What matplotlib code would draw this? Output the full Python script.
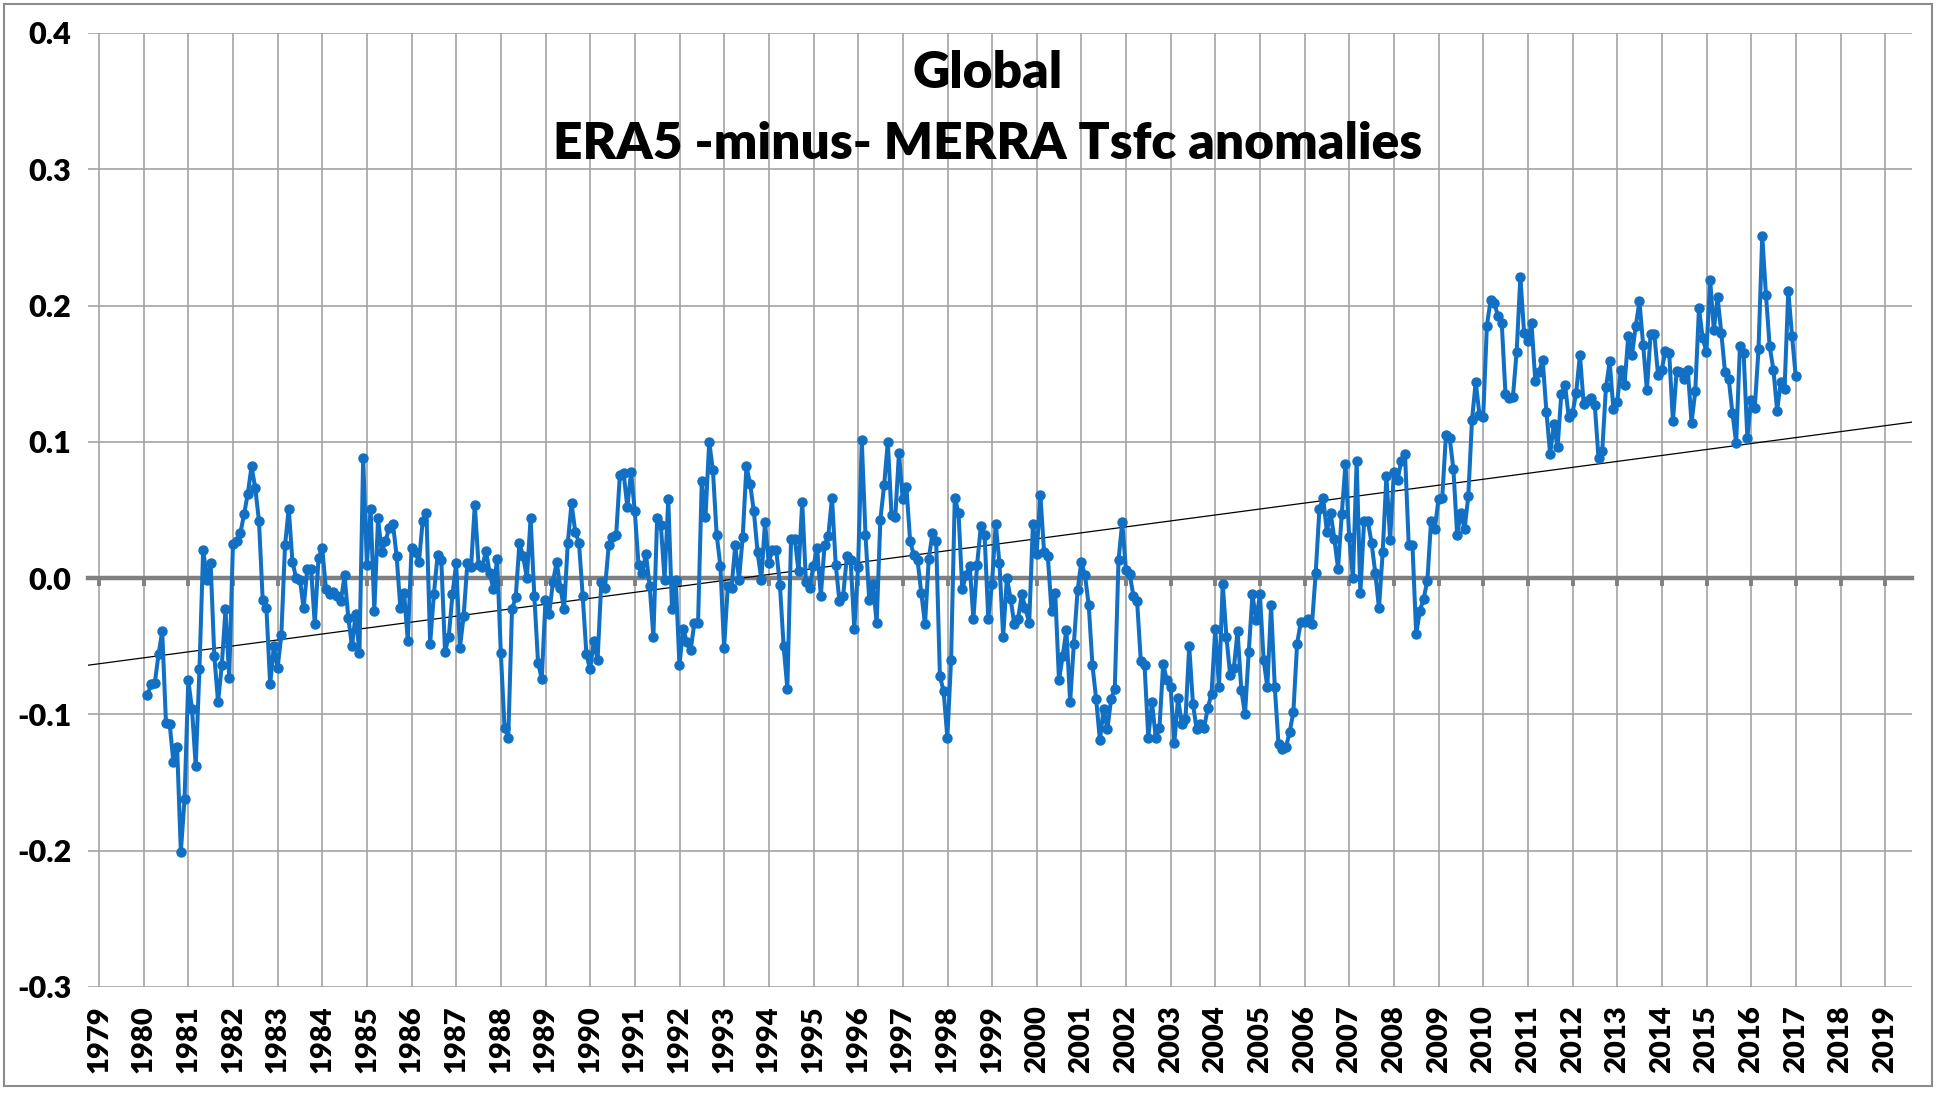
import numpy as np
import matplotlib
matplotlib.use("Agg")
import matplotlib.pyplot as plt
from matplotlib.patches import Rectangle
from matplotlib.ticker import FuncFormatter

# monthly ERA5 minus MERRA Tsfc anomaly differences, Jan 1980 - Dec 2016
y1980 = [-0.086, -0.078, -0.077, -0.056, -0.039, -0.106, -0.107, -0.135, -0.124, -0.201, -0.162, -0.075]
y1981 = [-0.096, -0.138, -0.067, 0.021, -0.001, 0.011, -0.057, -0.091, -0.064, -0.023, -0.073, 0.025]
y1982 = [0.027, 0.033, 0.047, 0.062, 0.082, 0.066, 0.042, -0.016, -0.022, -0.078, -0.050, -0.066]
y1983 = [-0.042, 0.024, 0.051, 0.012, 0.000, -0.001, -0.022, 0.007, 0.007, -0.034, 0.015, 0.022]
y1984 = [-0.008, -0.012, -0.010, -0.013, -0.017, 0.002, -0.029, -0.050, -0.026, -0.055, 0.088, 0.010]
y1985 = [0.051, -0.024, 0.044, 0.019, 0.027, 0.037, 0.040, 0.016, -0.022, -0.011, -0.046, 0.022]
y1986 = [0.019, 0.012, 0.042, 0.048, -0.048, -0.012, 0.017, 0.013, -0.054, -0.043, -0.012, 0.011]
y1987 = [-0.051, -0.028, 0.011, 0.008, 0.054, 0.010, 0.008, 0.020, 0.004, -0.008, 0.014, -0.055]
y1988 = [-0.110, -0.117, -0.023, -0.014, 0.026, 0.016, 0.000, 0.044, -0.013, -0.062, -0.074, -0.016]
y1989 = [-0.026, -0.003, 0.012, -0.007, -0.023, 0.026, 0.055, 0.034, 0.026, -0.013, -0.056, -0.067]
y1990 = [-0.046, -0.060, -0.003, -0.007, 0.024, 0.030, 0.032, 0.076, 0.077, 0.052, 0.078, 0.049]
y1991 = [0.010, 0.004, 0.018, -0.006, -0.043, 0.044, 0.039, -0.001, 0.058, -0.023, -0.001, -0.064]
y1992 = [-0.037, -0.047, -0.053, -0.033, -0.033, 0.071, 0.045, 0.100, 0.079, 0.032, 0.009, -0.051]
y1993 = [-0.006, -0.007, 0.024, -0.001, 0.030, 0.082, 0.069, 0.049, 0.019, -0.001, 0.041, 0.011]
y1994 = [0.021, 0.021, -0.005, -0.050, -0.081, 0.029, 0.029, 0.005, 0.056, -0.003, -0.007, 0.009]
y1995 = [0.022, -0.013, 0.024, 0.031, 0.059, 0.010, -0.017, -0.013, 0.016, 0.013, -0.037, 0.008]
y1996 = [0.101, 0.032, -0.016, -0.004, -0.033, 0.043, 0.068, 0.100, 0.046, 0.045, 0.092, 0.058]
y1997 = [0.067, 0.027, 0.017, 0.013, -0.011, -0.034, 0.014, 0.033, 0.027, -0.072, -0.083, -0.117]
y1998 = [-0.060, 0.059, 0.048, -0.008, 0.002, 0.009, -0.030, 0.010, 0.038, 0.032, -0.030, -0.004]
y1999 = [0.040, 0.011, -0.043, 0.000, -0.015, -0.034, -0.030, -0.012, -0.022, -0.033, 0.040, 0.018]
y2000 = [0.061, 0.019, 0.016, -0.024, -0.011, -0.075, -0.057, -0.038, -0.091, -0.048, -0.009, 0.012]
y2001 = [0.002, -0.020, -0.064, -0.089, -0.119, -0.096, -0.111, -0.089, -0.081, 0.013, 0.041, 0.006]
y2002 = [0.003, -0.013, -0.017, -0.061, -0.064, -0.117, -0.091, -0.117, -0.110, -0.063, -0.075, -0.080]
y2003 = [-0.121, -0.088, -0.107, -0.103, -0.050, -0.092, -0.111, -0.107, -0.110, -0.095, -0.085, -0.037]
y2004 = [-0.080, -0.004, -0.043, -0.071, -0.066, -0.039, -0.082, -0.100, -0.054, -0.012, -0.031, -0.012]
y2005 = [-0.060, -0.080, -0.020, -0.080, -0.122, -0.125, -0.124, -0.113, -0.098, -0.048, -0.032, -0.032]
y2006 = [-0.030, -0.034, 0.004, 0.051, 0.059, 0.034, 0.048, 0.029, 0.007, 0.047, 0.084, 0.030]
y2007 = [0.000, 0.086, -0.011, 0.042, 0.042, 0.026, 0.004, -0.022, 0.019, 0.075, 0.028, 0.078]
y2008 = [0.072, 0.086, 0.091, 0.024, 0.024, -0.041, -0.024, -0.015, -0.002, 0.042, 0.036, 0.058]
y2009 = [0.059, 0.105, 0.103, 0.080, 0.032, 0.048, 0.036, 0.060, 0.116, 0.144, 0.120, 0.118]
y2010 = [0.185, 0.204, 0.202, 0.192, 0.187, 0.135, 0.132, 0.133, 0.166, 0.221, 0.180, 0.174]
y2011 = [0.187, 0.145, 0.151, 0.160, 0.122, 0.091, 0.113, 0.096, 0.135, 0.142, 0.118, 0.121]
y2012 = [0.136, 0.164, 0.128, 0.130, 0.132, 0.127, 0.088, 0.093, 0.140, 0.159, 0.124, 0.129]
y2013 = [0.153, 0.142, 0.178, 0.164, 0.185, 0.203, 0.171, 0.138, 0.179, 0.179, 0.149, 0.153]
y2014 = [0.167, 0.165, 0.115, 0.152, 0.151, 0.146, 0.153, 0.114, 0.137, 0.198, 0.176, 0.166]
y2015 = [0.219, 0.182, 0.206, 0.180, 0.151, 0.146, 0.121, 0.099, 0.170, 0.165, 0.103, 0.131]
y2016 = [0.125, 0.168, 0.251, 0.208, 0.170, 0.153, 0.123, 0.144, 0.139, 0.211, 0.178, 0.148]

years = list(range(1980, 2017))
monthly = [y1980, y1981, y1982, y1983, y1984, y1985, y1986, y1987, y1988, y1989,
           y1990, y1991, y1992, y1993, y1994, y1995, y1996, y1997, y1998, y1999,
           y2000, y2001, y2002, y2003, y2004, y2005, y2006, y2007, y2008, y2009,
           y2010, y2011, y2012, y2013, y2014, y2015, y2016]

tick_years = list(range(1979, 2020))
y_ticks = [-0.3, -0.2, -0.1, 0.0, 0.1, 0.2, 0.3, 0.4]

vals = np.array([v for yr in monthly for v in yr])
t = np.array([yr + (m + 0.95) / 12.0 for yr in years for m in range(12)])

plt.rcParams['font.family'] = ['Lato', 'DejaVu Sans']
plt.rcParams['axes.unicode_minus'] = False

fig = plt.figure(figsize=(19.39, 10.93), dpi=100)
ax = fig.add_axes([88 / 1939, 1 - 987 / 1093, (1912 - 88) / 1939, (987 - 33) / 1093])

xmin, xmax = 1978.75, 2019.6
ax.set_xlim(xmin, xmax)
ax.set_ylim(-0.3, 0.4)

ax.set_xticks(tick_years)
ax.set_yticks(y_ticks)
ax.grid(True, color='#A3A3A3', linewidth=1.2)
ax.set_axisbelow(True)

for s in ['top', 'right', 'left']:
    ax.spines[s].set_visible(False)
ax.spines['bottom'].set_position(('data', 0))
ax.spines['bottom'].set_color('#808080')
ax.spines['bottom'].set_linewidth(3.2)
ax.spines['bottom'].set_zorder(2.5)
ax.tick_params(axis='x', direction='out', length=6, width=2.8, color='#808080', labelbottom=False)
ax.tick_params(axis='y', length=0, pad=12, labelsize=22)
ax.yaxis.set_major_formatter(FuncFormatter(lambda v, p: '%.1f' % v))
for lab in ax.get_yticklabels():
    lab.set_fontweight('heavy')

# year labels along the bottom of the plot area
sec = ax.secondary_xaxis('bottom')
sec.set_xticks(tick_years)
sec.set_xticklabels([str(y) for y in tick_years], rotation=90, fontsize=21, fontweight='heavy')
sec.tick_params(length=0, pad=13)
sec.spines['bottom'].set_visible(False)

# linear trend over the whole axis, like the spreadsheet trendline
k, b = np.polyfit(t, vals, 1)
xt = np.array([xmin, xmax])
ax.plot(xt, k * xt + b, color='black', linewidth=0.9, zorder=3)

ax.plot(t, vals, color='#1170C4', linewidth=2.9, marker='o', markersize=6.5, zorder=4)

ax.text(0.493, 0.958, 'Global', transform=ax.transAxes, ha='center', va='center',
        fontsize=37, fontweight='heavy')
ax.text(0.493, 0.884, 'ERA5 -minus- MERRA Tsfc anomalies', transform=ax.transAxes,
        ha='center', va='center', fontsize=37, fontweight='heavy')

fig.patches.append(Rectangle((4 / 1939, 7 / 1093), 1928 / 1939, 1082 / 1093, transform=fig.transFigure,
                             fill=False, edgecolor='#8C8C8C', linewidth=1.5))

fig.savefig('out.png', dpi=100)
